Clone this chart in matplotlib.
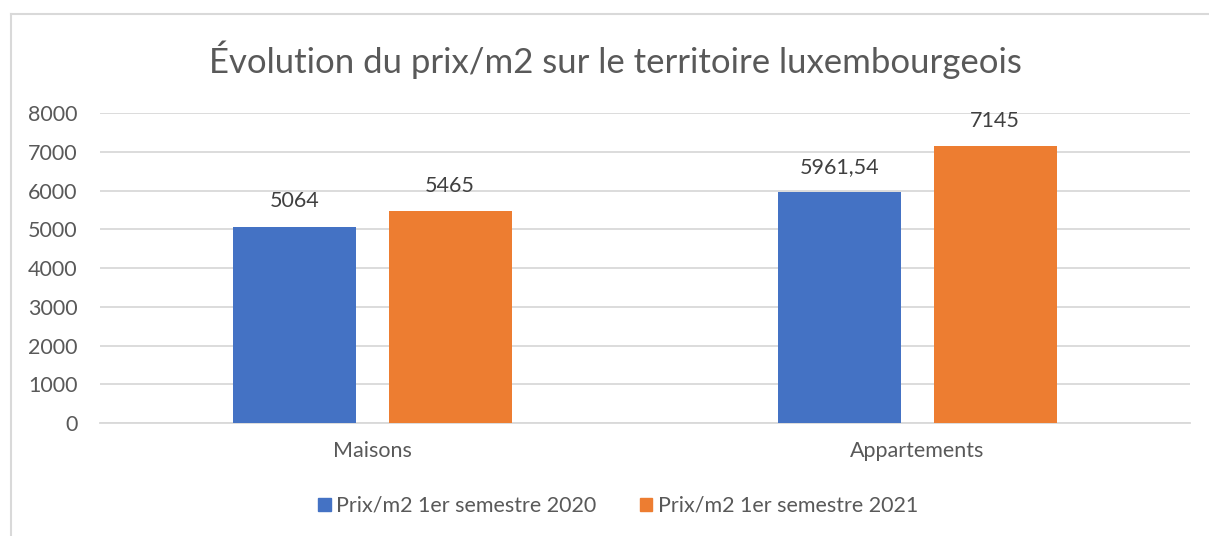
import matplotlib
matplotlib.use("Agg")
import matplotlib.pyplot as plt
import numpy as np
from matplotlib.lines import Line2D
from matplotlib.patches import Patch

plt.rcParams['font.family'] = ['Lato', 'DejaVu Sans']

categories = ['Maisons', 'Appartements']
series_names = ['Prix/m2 1er semestre 2020', 'Prix/m2 1er semestre 2021']
prix_2020 = [5064, 5961.54]
prix_2021 = [5465, 7145]
labels_2020 = ['5064', '5961,54']
labels_2021 = ['5465', '7145']
yticks = [0, 1000, 2000, 3000, 4000, 5000, 6000, 7000, 8000]

blue = '#4472C4'
orange = '#ED7D31'
txt = '#595959'
grid = '#D9D9D9'
fs = 15.5

fig = plt.figure(figsize=(12.09, 5.36), dpi=100)
ax = fig.add_axes([100/1209, 1-423/536, 1090/1209, 310/536])

x = np.arange(len(categories))
w = 0.2257
off = 0.1425
b1 = ax.bar(x - off, prix_2020, w, color=blue, zorder=3)
b2 = ax.bar(x + off, prix_2021, w, color=orange, zorder=3)

for bars, labs in ((b1, labels_2020), (b2, labels_2021)):
    for r, lab in zip(bars, labs):
        ax.annotate(lab, (r.get_x() + r.get_width()/2, r.get_height()),
                    xytext=(0, 11), textcoords='offset points',
                    ha='center', va='bottom', fontsize=fs, color='#404040')

ax.set_xlim(-0.5, 1.5)
ax.set_ylim(0, 8000)
ax.set_yticks(yticks)
ax.set_yticklabels([str(t) for t in yticks])
ax.set_xticks(x)
ax.set_xticklabels(categories)
ax.tick_params(axis='both', length=0, labelsize=fs, colors=txt)
ax.tick_params(axis='y', pad=16)
ax.tick_params(axis='x', pad=13)
ax.yaxis.grid(True, color=grid, linewidth=1.3, zorder=0)
for s in ['top', 'right', 'left']:
    ax.spines[s].set_visible(False)
ax.spines['bottom'].set_color(grid)
ax.spines['bottom'].set_linewidth(1.3)

fig.text(615/1209, 1-60/536, 'Évolution du prix/m2 sur le territoire luxembourgeois',
         ha='center', va='center', fontsize=25, color=txt)

handles = [Patch(color=blue), Patch(color=orange)]
fig.legend(handles, series_names, loc='center', bbox_to_anchor=(618/1209, 1-506/536),
           ncol=2, frameon=False, fontsize=fs, handlelength=0.6, handleheight=0.6,
           handletextpad=0.25, columnspacing=2.0, labelcolor=txt)

# chart border (cut at the bottom and right like the screenshot)
fig.add_artist(Line2D([11/1209, 11/1209], [0, 1-14/536], color=grid, lw=1.5))
fig.add_artist(Line2D([11/1209, 1], [1-14/536, 1-14/536], color=grid, lw=1.5))

fig.savefig('out.png', dpi=100)
